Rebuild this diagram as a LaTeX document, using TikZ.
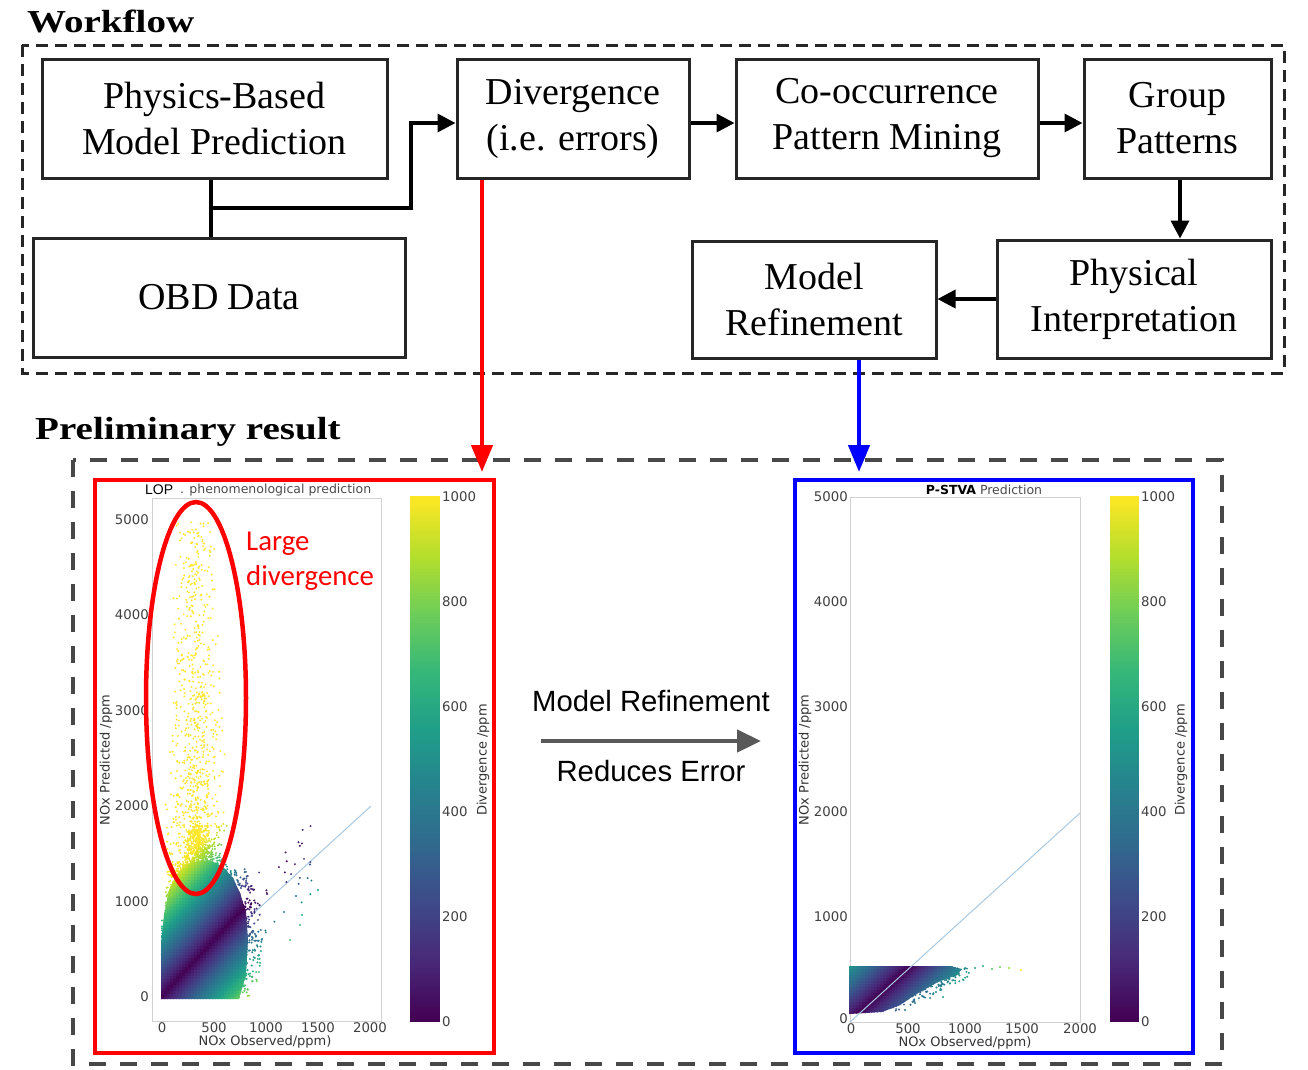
\documentclass[tikz,border=0pt]{standalone}
\usepackage{fontspec}
\setmainfont{Liberation Serif}
\newfontfamily\plotfont{DejaVu Sans}
\newfontfamily\arialfont{Liberation Sans}
\newfontfamily\califont{Carlito}
\usetikzlibrary{arrows.meta}
\definecolor{vir0}{HTML}{440154}
\definecolor{vir1}{HTML}{482878}
\definecolor{vir2}{HTML}{3E4989}
\definecolor{vir3}{HTML}{31688E}
\definecolor{vir4}{HTML}{26828E}
\definecolor{vir5}{HTML}{1F9E89}
\definecolor{vir6}{HTML}{35B779}
\definecolor{vir7}{HTML}{6DCD59}
\definecolor{vir8}{HTML}{B4DE2C}
\definecolor{vir9}{HTML}{FDE725}
\definecolor{diagblue}{HTML}{A9C9E2}
\definecolor{dashgray}{HTML}{484848}
\newcommand\vset[1]{%
 \pgfmathsetmacro\vt{max(0,min(1,#1))*9}%
 \pgfmathtruncatemacro\vs{min(floor(\vt),8)}%
 \pgfmathtruncatemacro\vn{\vs+1}%
 \pgfmathtruncatemacro\vp{round(100-(\vt-\vs)*100)}%
 \colorlet{vc}{vir\vs!\vp!vir\vn}}
\newcommand\lcol[2]{\vset{abs((997-#2)/112-(#1-162)/104)}}
\newcommand\rcol[2]{\vset{abs((1022-#2)/104.7-(#1-850)/115)}}
\newcommand\ldot[3]{\lcol{#1}{#2}\fill[vc] (#1,#2) circle[radius=#3];}
\newcommand\rdot[3]{\rcol{#1}{#2}\fill[vc] (#1,#2) circle[radius=#3];}
\begin{document}
\begin{tikzpicture}[x=1pt,y=-1pt,
  wf/.style={draw=black!85, line width=3pt, align=center, inner sep=0pt,
    font=\fontsize{38}{46}\selectfont},
  arr/.style={line width=3.5pt, -{Triangle[length=18pt,width=18pt]}},
  plain/.style={line width=3.5pt},
  tick/.style={font=\plotfont\fontsize{13.3}{15}\selectfont, text=black!75, inner sep=0pt},
  axlab/.style={font=\plotfont\fontsize{13}{15}\selectfont, text=black!80, inner sep=0pt},
  frame/.style={draw=black!18, line width=1pt},
  bigtitle/.style={font=\bfseries\fontsize{32}{36}\selectfont, inner sep=0pt}]
\useasboundingbox[fill=white] (0,0) rectangle (1308,1069);

% ---------- Workflow ----------
\node[bigtitle, anchor=west] (wtitle) at (27,21) {\scalebox{1.22}[1]{Workflow}};
\draw[line width=3pt, dash pattern=on 12pt off 7pt, black!85] (22,45) rectangle (1284,373);

\node[wf, minimum width=345pt, minimum height=119pt] (phys) at (214.5,118.5) {Physics-Based\\Model Prediction};
\node[wf, minimum width=372pt, minimum height=119pt] (obd) at (219,297.5) {OBD Data};
\node[wf, minimum width=232pt, minimum height=119pt] (div) at (573,118.5) {Divergence\\(i.e. errors)};
\node[wf, minimum width=302pt, minimum height=119pt] (cooc) at (887,118.5) {Co-occurrence\\Pattern Mining};
\node[wf, minimum width=187pt, minimum height=119pt] (group) at (1177.5,118.5) {Group\\Patterns};
\node[wf, minimum width=274pt, minimum height=118pt] (pint) at (1134,299) {Physical\\Interpretation};
\node[wf, minimum width=244pt, minimum height=117pt] (mref) at (814,299.5) {Model\\Refinement};

\coordinate (j) at (211,208);
\coordinate (jr) at (411,208);
\coordinate (ay) at (0,123);
\coordinate (by) at (0,299);
\draw[plain] (obd.north -| j) -- (phys.south -| j);
\draw[arr] (j) -- (jr) |- (div.west |- ay);
\draw[arr] (div.east |- ay) -- (cooc.west |- ay);
\draw[arr] (cooc.east |- ay) -- (group.west |- ay);
\draw[arr] (group.south -| 1180,0) -- (pint.north -| 1180,0);
\draw[arr] (pint.west |- by) -- (mref.east |- by);

% ---------- Preliminary result ----------
\node[bigtitle, anchor=west] (ptitle) at (35,432) {\scalebox{1.22}[1]{Preliminary result}};
\draw[line width=4pt, dash pattern=on 17pt off 14pt, dashgray] (73,460) rectangle (1222,1064);

\coordinate (redend) at (482,472);
\coordinate (blueend) at (859,472);
\draw[line width=4.5pt, red, -{Triangle[length=27pt,width=21pt]}] (div.south -| redend) -- (redend);
\draw[line width=4.5pt, blue, -{Triangle[length=27pt,width=21pt]}] (mref.south -| blueend) -- (blueend);

% middle arrow
\coordinate (ma) at (541,741);
\coordinate (mb) at (761,741);
\draw[line width=4.5pt, black!65, -{Triangle[length=24pt,width=22pt]}] (ma) -- (mb);
\node[font=\arialfont\fontsize{29.3}{32}\selectfont] (mtxt) at (651,701) {Model Refinement};
\node[font=\arialfont\fontsize{29.3}{32}\selectfont] (rtxt) at (651,771) {Reduces Error};

% ---------- Left plot ----------
\draw[frame] (152,498) rectangle (381,1021);
\node[font=\arialfont\fontsize{14}{16}\selectfont, anchor=west, inner sep=0pt] (lop) at (145,490) {LOP};
\node[font=\plotfont\fontsize{12.5}{15}\selectfont, text=black!70, anchor=west, inner sep=0pt] (ltitle) at (180,490) {. phenomenological prediction};
\foreach \v/\y in {5000/520,4000/615,3000/711,2000/806,1000/902,0/997}
  \node[tick, anchor=east] (ly\v) at (149,\y) {\v};
\foreach \v/\x in {0/162,500/214,1000/266,1500/318,2000/370}
  \node[tick] (lx\v) at (\x,1028) {\v};
\node[axlab] (lxl) at (265,1042) {NOx Observed/ppm)};
\node[axlab, rotate=90] (lyl) at (106,760) {NOx Predicted /ppm};

% colorbar left
\foreach \k in {0,...,174} {
  \vset{\k/174}
  \fill[vc] (410,{1022-3*\k}) rectangle (440,{1022-3*\k-3.6});
}
\foreach \v/\y in {1000/497,800/602,600/707,400/812,200/917,0/1022}
  \node[tick, anchor=west] (lc\v) at (442,\y) {\v};
\node[axlab, rotate=90] (lcl) at (483,760) {Divergence /ppm};

% diagonal
\draw[diagblue, line width=1pt] (162,997) -- (371,806);

\pgfmathsetseed{7}
% yellow cloud (sparse upper part)
\foreach \i in {1,...,1100} {
  \pgfmathsetmacro\Y{872-350*rnd^2.1}
  \pgfmathsetmacro\X{196+(22+12*(\Y-520)/350)*(rnd+rnd-1)}
  \ldot{\X}{\Y}{1.05}
}
% dense yellow band at bottom of the cloud
\foreach \i in {1,...,700} {
  \pgfmathsetmacro\Y{895-70*rnd^1.3}
  \pgfmathsetmacro\X{200+(28-0.22*(895-\Y))*(rnd+rnd-1)}
  \ldot{\X}{\Y}{1.1}
}
% scatter left: dense core, clipped to a smooth outline
\begin{scope}
  \clip (161,999) -- (239,999) -- (246,975) -- (248,940) -- (246,912) -- (240,893) -- (233,878)
     -- (222,866) -- (208,860) -- (192,862) -- (178,872) -- (169,890) -- (164,915) -- (161,945) -- cycle;
  \foreach \Y in {858,861,...,999} {
    \foreach \X in {160,163,...,249} {
      \lcol{\X}{\Y}
      \fill[vc] (\X-1.75,\Y-1.75) rectangle ++(3.5,3.5);
    }
  }
\end{scope}
% right fringe
\foreach \i in {1,...,260} {
  \pgfmathsetmacro\Y{868+129*rnd}
  \pgfmathsetmacro\X{min(246,238+(997-\Y)*0.2,246+(\Y-912)*0.3)-6+22*rnd^1.6}
  \ldot{\X}{\Y}{1.1}
}
% left fringe
\foreach \i in {1,...,110} {
  \pgfmathsetmacro\Y{860+100*rnd}
  \pgfmathsetmacro\X{max(162,162+max(0,945-\Y)*0.16-5+9*rnd)}
  \ldot{\X}{\Y}{1.1}
}
% outliers near diagonal
\foreach \i in {1,...,45} {
  \pgfmathsetmacro\X{245+70*rnd^1.5}
  \pgfmathsetmacro\Y{min(997,997-(\X-162)*0.918+(rnd-0.5)*80)}
  \ldot{\X}{\Y}{1.1}
}
\foreach \X/\Y in {318/890,296/896,284/912,302/915,290/940,300/925} {
  \ldot{\X}{\Y}{1.1}
}

% red ellipse and text
\draw[red, line width=4.5pt] (196,698) ellipse [x radius=50, y radius=196];
\node[font=\califont\fontsize{28.8}{35}\selectfont, text=red, anchor=north west, align=left, inner sep=0pt] (ldtxt) at (246,532) {Large\\divergence};

\draw[red, line width=4.5pt] (95,480) rectangle (494,1053);

% ---------- Right plot ----------
\draw[frame] (850,497) rectangle (1080,1022);
\node[font=\plotfont\fontsize{12.5}{15}\selectfont, text=black!70, inner sep=0pt] (rtitle) at (984,490) {\textcolor{black}{\bfseries P-STVA} Prediction};
\foreach \v/\y in {5000/497,4000/602,3000/707,2000/812,1000/917}
  \node[tick, anchor=east] (ry\v) at (848,\y) {\v};
\node[tick, anchor=east] (ry0) at (848,1019) {0};
\foreach \v/\x in {0/851,500/908,1000/965,1500/1022,2000/1080}
  \node[tick] (rx\v) at (\x,1029) {\v};
\node[axlab] (rxl) at (965,1043) {NOx Observed/ppm)};
\node[axlab, rotate=90] (ryl) at (805,760) {NOx Predicted /ppm};

\foreach \k in {0,...,174} {
  \vset{\k/174}
  \fill[vc] (1110,{1022-3*\k}) rectangle (1139,{1022-3*\k-3.6});
}
\foreach \v/\y in {1000/497,800/602,600/707,400/812,200/917,0/1022}
  \node[tick, anchor=west] (rc\v) at (1141,\y) {\v};
\node[axlab, rotate=90] (rcl) at (1181,760) {Divergence /ppm};

% right scatter core, clipped
\begin{scope}
  \clip (849,966) -- (950,966) -- (962,969) -- (957,975) -- (938,982) -- (918,993) -- (900,1005)
     -- (882,1012) -- (849,1014) -- cycle;
  \foreach \Y in {965,968,...,1016} {
    \foreach \X in {849,852,...,964} {
      \rcol{\X}{\Y}
      \fill[vc] (\X-1.75,\Y-1.75) rectangle ++(3.5,3.5);
    }
  }
\end{scope}
\foreach \i in {1,...,110} {
  \pgfmathsetmacro\Y{968+44*rnd}
  \pgfmathsetmacro\X{min(960,960-(\Y-975)*2.2)-4+20*rnd^2}
  \rdot{\X}{\Y}{1.1}
}
\foreach \X/\Y in {975/968,983/966,992/969,1000/967,1009/968,1021/970,915/1003,930/998,943/997,905/1010,921/990,936/992} {
  \rdot{\X}{\Y}{1.2}
}
\draw[diagblue, line width=1pt] (850,1022) -- (1080,813);

\draw[blue, line width=4.5pt] (795,480) rectangle (1193,1053);
\end{tikzpicture}
\end{document}
